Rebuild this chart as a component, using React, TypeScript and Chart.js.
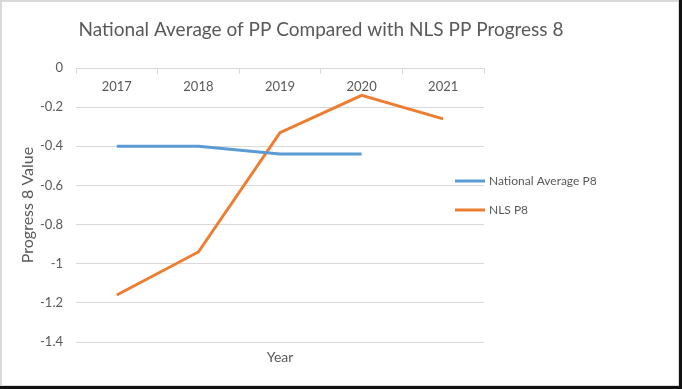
import React, { useEffect, useRef } from "react";
import { Chart, registerables } from "chart.js";

Chart.register(...registerables);

const TITLE = "National Average of PP Compared with NLS PP Progress 8";
const years = ["2017", "2018", "2019", "2020", "2021"];
const nationalAvg = [-0.4, -0.4, -0.44, -0.44, null];
const nlsP8 = [-1.16, -0.94, -0.33, -0.14, -0.26];
const seriesNames = ["National Average P8", "NLS P8"];
const seriesColors = ["#5b9bd5", "#ed7d31"];
const yAxisTitle = "Progress 8 Value";
const xAxisTitle = "Year";

const FONT = "Lato, 'Open Sans', sans-serif";
const TEXT = "#595959";

const extras = {
  id: "extras",
  afterDraw(chart: any) {
    const ctx = chart.ctx;
    const ca = chart.chartArea;
    ctx.save();
    // title
    ctx.fillStyle = TEXT;
    ctx.font = `19px ${FONT}`;
    ctx.textAlign = "center";
    ctx.textBaseline = "middle";
    ctx.fillText(TITLE, 321, 30);
    // x axis title
    ctx.font = `14px ${FONT}`;
    ctx.fillText(xAxisTitle, (ca.left + ca.right) / 2, 357);
    // legend
    ctx.textAlign = "left";
    ctx.font = `12px ${FONT}`;
    const ys = [181, 210];
    chart.data.datasets.forEach((ds: any, i: number) => {
      const y = ys[i];
      ctx.strokeStyle = ds.borderColor;
      ctx.lineWidth = 3;
      ctx.beginPath();
      ctx.moveTo(455, y);
      ctx.lineTo(485, y);
      ctx.stroke();
      ctx.fillStyle = TEXT;
      ctx.fillText(ds.label, 489, y);
    });
    ctx.restore();
  },
};

function App() {
  const ref = useRef<HTMLCanvasElement>(null);
  useEffect(() => {
    document.body.style.margin = "0";
    const chart = new Chart(ref.current!, {
      type: "line",
      data: {
        labels: years,
        datasets: [
          {
            label: seriesNames[0],
            data: nationalAvg,
            borderColor: seriesColors[0],
            backgroundColor: seriesColors[0],
            borderWidth: 3,
            pointRadius: 0,
            tension: 0,
          },
          {
            label: seriesNames[1],
            data: nlsP8,
            borderColor: seriesColors[1],
            backgroundColor: seriesColors[1],
            borderWidth: 3,
            pointRadius: 0,
            tension: 0,
          },
        ],
      },
      options: {
        animation: false,
        responsive: false,
        layout: { padding: { top: 68, right: 198, bottom: 47, left: 0 } },
        plugins: {
          legend: { display: false },
          title: { display: false },
          tooltip: { enabled: false },
        },
        scales: {
          x: {
            type: "category",
            position: { y: 0 } as any,
            offset: true,
            grid: {
              display: true,
              drawOnChartArea: false,
              drawTicks: true,
              tickLength: 5,
              color: "#d9d9d9",
              offset: true,
            },
            border: { display: true, color: "#d9d9d9" },
            ticks: { color: TEXT, font: { family: FONT, size: 13 }, padding: 6 },
          },
          y: {
            min: -1.4,
            max: 0,
            afterFit: (scale: any) => {
              scale.width = 76;
            },
            ticks: {
              stepSize: 0.2,
              color: TEXT,
              font: { family: FONT, size: 13 },
              padding: 13,
              callback: (v: any) => String(Number(Number(v).toFixed(1))),
            },
            grid: { color: "#d9d9d9", drawTicks: false },
            border: { display: false },
            title: {
              display: true,
              text: yAxisTitle,
              color: TEXT,
              font: { family: FONT, size: 16 },
              padding: { top: 18, bottom: 0 },
            },
          },
        },
      },
      plugins: [extras],
    });
    return () => chart.destroy();
  }, []);
  return (
    <div style={{ position: "relative", width: 682, height: 389, background: "#fff" }}>
      <canvas ref={ref} width={682} height={389} style={{ display: "block" }} />
      <div
        style={{
          position: "absolute",
          left: 0,
          top: 0,
          width: 680,
          height: 387,
          boxSizing: "border-box",
          border: "2px solid #d9d9d9",
          pointerEvents: "none",
        }}
      />
      <div style={{ position: "absolute", left: 679, top: 0, width: 3, height: 389, background: "#111" }} />
      <div style={{ position: "absolute", left: 0, top: 386, width: 682, height: 3, background: "#111" }} />
    </div>
  );
}

export default App;
